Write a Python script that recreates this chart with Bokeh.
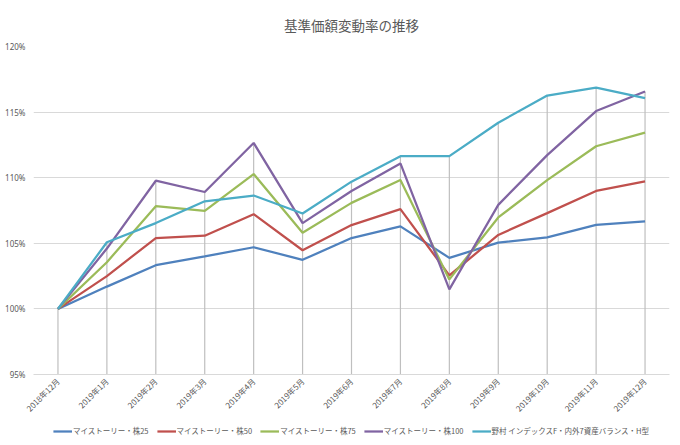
import math
from bokeh.plotting import figure
from bokeh.layouts import column
from bokeh.models import FixedTicker, Legend, LegendItem, PrintfTickFormatter
from bokeh.embed import file_html
from bokeh.resources import INLINE

title = "基準価額変動率の推移"
months = ["2018年12月", "2019年1月", "2019年2月", "2019年3月", "2019年4月", "2019年5月",
          "2019年6月", "2019年7月", "2019年8月", "2019年9月", "2019年10月", "2019年11月", "2019年12月"]
names = ["マイストーリー・株25", "マイストーリー・株50", "マイストーリー・株75",
         "マイストーリー・株100", "野村 インデックスF・内外7資産バランス・H型"]
s25 = [100.0, 101.7, 103.33, 104.0, 104.7, 103.74, 105.4, 106.29, 103.89, 105.05, 105.45, 106.41, 106.67]
s50 = [100.0, 102.5, 105.4, 105.58, 107.22, 104.47, 106.39, 107.6, 102.55, 105.64, 107.3, 108.99, 109.72]
s75 = [100.0, 103.56, 107.83, 107.47, 110.28, 105.8, 108.08, 109.82, 102.25, 106.97, 109.82, 112.4, 113.43]
s100 = [100.0, 104.6, 109.77, 108.91, 112.65, 106.54, 108.99, 111.09, 101.49, 107.93, 111.72, 115.08, 116.57]
nomura = [100.0, 105.08, 106.54, 108.2, 108.64, 107.27, 109.7, 111.64, 111.64, 114.19, 116.26, 116.87, 116.06]
series = [s25, s50, s75, s100, nomura]
colors = ["#4F81BD", "#C0504D", "#9BBB59", "#8064A2", "#4BACC6"]
y_ticks = [95, 100, 105, 110, 115, 120]

xs = list(range(len(months)))

p = figure(width=680, height=420,
           x_range=(-0.5, len(months) - 0.5), y_range=(95, 120),
           output_backend="svg", toolbar_location=None,
           min_border_left=33, min_border_right=11, min_border_top=44, min_border_bottom=44)
p.outline_line_color = None
p.background_fill_color = "white"
p.border_fill_color = "white"

p.title.text = title
p.title.align = "center"
p.title.text_font = "Noto Sans CJK JP"
p.title.text_font_size = "13.5px"
p.title.text_font_style = "normal"
p.title.text_color = "#595959"
p.title.standoff = 24

# grid
p.xgrid.grid_line_color = None
p.ygrid.ticker = FixedTicker(ticks=y_ticks)
p.ygrid.grid_line_color = "#D9D9D9"
p.ygrid.grid_line_width = 1

# y axis
p.yaxis.ticker = FixedTicker(ticks=y_ticks)
p.yaxis.formatter = PrintfTickFormatter(format="%d%%")
p.yaxis.axis_line_color = None
p.yaxis.major_tick_line_color = None
p.yaxis.minor_tick_line_color = None
p.yaxis.major_tick_out = 0
p.yaxis.major_tick_in = 0
p.yaxis.major_label_text_font_size = "8px"
p.yaxis.major_label_text_color = "#595959"
p.yaxis.major_label_text_font = "Noto Sans"
p.yaxis.major_label_standoff = 8

# x axis
p.xaxis.ticker = FixedTicker(ticks=xs)
p.xaxis.major_label_overrides = {i: m for i, m in enumerate(months)}
p.xaxis.major_label_orientation = math.pi / 4
p.xaxis.axis_line_color = "#D9D9D9"
p.xaxis.major_tick_line_color = None
p.xaxis.minor_tick_line_color = None
p.xaxis.major_tick_out = 0
p.xaxis.major_tick_in = 0
p.xaxis.major_label_text_font_size = "8px"
p.xaxis.major_label_text_color = "#595959"
p.xaxis.major_label_text_font = "Noto Sans CJK JP"
p.xaxis.major_label_standoff = 5

# drop lines from highest point down to axis
tops = [max(vals) for vals in zip(*series)]
p.segment(x0=xs, y0=tops, x1=xs, y1=[95] * len(xs), line_color="#BFBFBF", line_width=1.2)

for vals, c in zip(series, colors):
    p.line(xs, vals, line_color=c, line_width=2.25)

# legend strip below the chart (its proxy lines lie outside the visible range)
lg = figure(width=680, height=25, x_range=(0, 1), y_range=(0, 1),
            output_backend="svg", toolbar_location=None,
            min_border_left=0, min_border_right=0, min_border_top=0, min_border_bottom=0)
lg.axis.visible = False
lg.grid.visible = False
lg.outline_line_color = None
lg.border_fill_color = "white"
items = []
for name, c in zip(names, colors):
    r = lg.line([-10, -9], [-10, -9], line_color=c, line_width=2.25)
    items.append(LegendItem(label=name, renderers=[r]))

legend = Legend(items=items, orientation="horizontal", location="top_center")
legend.label_text_font = "Noto Sans CJK JP"
legend.label_text_font_size = "7.5px"
legend.label_text_color = "#595959"
legend.glyph_width = 19
legend.glyph_height = 8
legend.spacing = 8
legend.label_standoff = 1
legend.label_height = 8
legend.border_line_color = None
legend.background_fill_alpha = 0
legend.padding = 0
legend.margin = 5
lg.add_layout(legend, "center")

layout = column(p, lg, spacing=0)
open("out.html", "w").write(file_html(layout, INLINE))
